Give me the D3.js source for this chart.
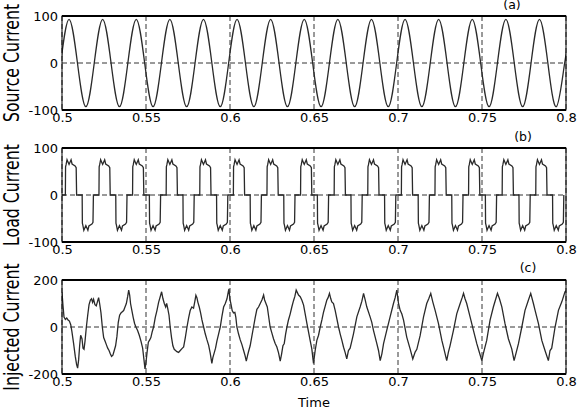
<!DOCTYPE html>
<html lang="en">
<head>
<meta charset="UTF-8">
<script src="https://d3js.org/d3.v7.min.js"></script>
<title>Source, load and injected current</title>
<style>
    body { margin: 0; background: #fff; }
    svg text { font-family: "DejaVu Sans", sans-serif; fill: #000; }
</style>
</head>
<body>
<svg width="579" height="416"></svg>
<script>
    // tick values
    const timeTicks = [0.5, 0.55, 0.6, 0.65, 0.7, 0.75, 0.8];
    const ampTicks = [-100, 0, 100];
    const injTicks = [-200, 0, 200];

    // (a) source current: zero crossings and peaks
    const sourceT = [0.4992,0.5042,0.5092,0.5142,0.5192,0.5242,0.5292,0.5342,0.5392,0.5442,
        0.5492,0.5542,0.5592,0.5642,0.5692,0.5742,0.5792,0.5842,0.5892,0.5942,
        0.5992,0.6042,0.6092,0.6142,0.6192,0.6242,0.6292,0.6342,0.6392,0.6442,
        0.6492,0.6542,0.6592,0.6642,0.6692,0.6742,0.6792,0.6842,0.6892,0.6942,
        0.6992,0.7042,0.7092,0.7142,0.7192,0.7242,0.7292,0.7342,0.7392,0.7442,
        0.7492,0.7542,0.7592,0.7642,0.7692,0.7742,0.7792,0.7842,0.7892,0.7942,
        0.7992,0.8042];
    const sourceI = [0,93,0,-93,0,93,0,-93,0,93,
        0,-93,0,93,0,-93,0,93,0,-93,
        0,93,0,-93,0,93,0,-93,0,93,
        0,-93,0,93,0,-93,0,93,0,-93,
        0,93,0,-93,0,93,0,-93,0,93,
        0,-93,0,93,0,-93,0,93,0,-93,
        0,93];

    const loadPeriod = 0.02;
    const loadStart = [0.482,0.502,0.522,0.542,0.562,0.582,0.602,0.622,
        0.642,0.662,0.682,0.702,0.722,0.742,0.762,0.782];
    const loadPhase = [0,0.006,0.02,0.05,0.11,0.17,0.2,0.29,0.322,0.335,
        0.5,0.506,0.52,0.55,0.61,0.67,0.7,0.79,0.822,0.835];
    const loadShape = [0,60,64,75,65,75,66,62,58,0,
        0,-60,-64,-75,-65,-75,-66,-62,-58,0];

    // (c) injected current
    const injT = [
        0.5000,0.5006,0.5012,0.5020,0.5028,0.5036,0.5044,0.5052,0.5059,0.5069,0.5079,0.5087,0.5093,0.5099,0.5105,0.5111,0.5119,0.5125,0.5131,0.5137,
        0.5145,0.5153,0.5161,0.5169,0.5176,0.5182,0.5188,0.5196,0.5204,0.5212,0.5218,0.5224,0.5232,0.5240,0.5248,0.5256,0.5264,0.5272,0.5280,0.5288,
        0.5295,0.5303,0.5311,0.5319,0.5327,0.5335,0.5343,0.5351,0.5359,0.5367,0.5375,0.5383,0.5391,0.5397,
        0.5403,0.5408,0.5416,0.5424,0.5432,0.5440,0.5450,0.5460,0.5470,0.5480,0.5488,0.5494,0.5500,0.5506,0.5514,0.5522,0.5529,0.5537,0.5545,0.5555,
        0.5565,0.5575,0.5585,0.5593,0.5601,0.5609,0.5617,0.5623,0.5629,0.5637,0.5644,0.5652,0.5660,0.5668,0.5676,0.5684,0.5694,0.5704,0.5714,0.5724,
        0.5734,0.5744,0.5754,0.5763,0.5773,0.5783,0.5791,0.5797,
        0.5803,0.5809,0.5817,0.5825,0.5833,0.5843,0.5853,0.5863,0.5873,0.5882,0.5892,0.5898,0.5906,0.5914,0.5922,0.5932,0.5942,0.5952,0.5962,0.5972,
        0.5982,0.5990,0.5994,0.5999,0.6005,0.6013,0.6021,0.6029,0.6035,0.6041,0.6051,0.6061,0.6071,0.6081,0.6089,0.6097,0.6105,0.6112,0.6120,0.6130,
        0.6140,0.6150,0.6160,0.6170,0.6180,0.6190,0.6200,
        0.6206,0.6214,0.6222,0.6229,0.6239,0.6249,0.6259,0.6269,0.6279,0.6289,0.6299,0.6307,0.6315,0.6323,0.6331,0.6339,0.6348,0.6358,0.6368,0.6378,
        0.6386,0.6394,
        0.6408,0.6418,0.6428,0.6438,0.6458,0.6477,0.6487,0.6497,0.6507,0.6517,0.6527,0.6537,0.6547,0.6557,0.6567,0.6576,0.6584,0.6592,
        0.6600,0.6606,0.6616,0.6626,0.6646,0.6656,0.6666,0.6676,0.6686,0.6695,0.6705,0.6715,0.6725,0.6735,0.6755,0.6775,0.6785,0.6795,
        0.6805,0.6814,0.6834,0.6844,0.6854,0.6874,0.6884,0.6894,0.6904,0.6914,0.6933,0.6953,0.6973,0.6983,0.6993,
        0.7003,0.7013,0.7023,0.7033,0.7052,0.7072,0.7088,0.7102,0.7112,0.7132,0.7152,0.7171,0.7183,0.7195,
        0.7207,0.7221,0.7241,0.7261,0.7271,0.7290,0.7300,0.7310,0.7330,0.7350,0.7370,0.7382,0.7390,
        0.7399,0.7409,0.7429,0.7449,0.7469,0.7481,0.7499,0.7509,0.7528,0.7548,0.7568,0.7580,0.7592,
        0.7604,0.7618,0.7637,0.7657,0.7677,0.7691,0.7703,0.7717,0.7737,0.7756,0.7776,0.7790,
        0.7806,0.7816,0.7836,0.7856,0.7875,0.7895,0.7905,0.7915,0.7935,0.7955,0.7975,0.7994,0.8000];
    const injI = [
        148,90,42,32,38,30,25,10,-20,-70,-125,-160,-175,-140,-80,-35,-50,-90,-95,-60,
        0,50,95,115,120,105,118,95,90,110,125,100,60,0,-45,-60,-75,-90,-100,-115,
        -125,-120,-100,-80,-40,20,50,60,65,70,85,100,130,157,
        135,100,70,40,15,0,-15,-35,-60,-90,-140,-178,-150,-110,-65,-55,-45,-20,0,40,
        70,105,130,150,120,100,85,100,80,50,0,-45,-80,-95,-100,-105,-108,-100,-92,-85,
        -45,0,40,70,85,80,110,135,
        125,105,85,60,30,0,-30,-55,-78,-110,-155,-130,-110,-90,-60,-30,0,45,85,100,
        120,150,162,120,100,70,60,62,40,0,-30,-55,-75,-100,-120,-145,-120,-100,-80,-40,
        0,40,75,85,100,115,136,
        115,100,85,50,0,-25,-50,-70,-85,-110,-145,-115,-80,-70,-30,0,30,55,85,112,
        130,157,
        136,129,114,93,14,-57,-93,-155,-100,-57,-35,0,30,64,90,114,125,143,
        120,107,100,71,0,-30,-57,-86,-110,-136,-100,-90,-60,-29,43,86,110,143,
        114,86,43,20,-14,-71,-100,-143,-114,-71,-14,43,100,125,157,
        100,71,55,29,-43,-93,-136,-107,-95,-36,43,100,120,143,
        107,71,14,-57,-86,-143,-107,-79,-14,57,100,125,143,
        120,100,43,-14,-71,-100,-143,-110,-57,29,86,115,143,
        120,86,14,-50,-93,-143,-110,-71,0,71,114,143,
        100,71,14,-57,-100,-143,-100,-90,0,71,107,150,155];

    const sourcePts = sourceT.map((t, i) => [t, sourceI[i]]);
    const loadPts = [];
    loadStart.forEach(s => loadPhase.forEach((p, i) => loadPts.push([s + p * loadPeriod, loadShape[i]])));
    const injPts = injT.map((t, i) => [t, injI[i]]);

    const svg = d3.select("svg");
    const left = 62, right = 566;
    const x = d3.scaleLinear().domain([0.5, 0.8]).range([left, right]);

    const panels = [
        {top: 16, bottom: 110, ticks: ampTicks, title: "Source Current", tag: "(a)", tagX: 512, tagY: 9,
            pts: sourcePts, curve: d3.curveNatural},
        {top: 148, bottom: 242, ticks: ampTicks, title: "Load Current", tag: "(b)", tagX: 523, tagY: 141,
            pts: loadPts, curve: d3.curveLinear},
        {top: 280, bottom: 374, ticks: injTicks, title: "Injected Current", tag: "(c)", tagX: 528, tagY: 272,
            pts: injPts, curve: d3.curveLinear}
    ];

    panels.forEach((p, k) => {
        const y = d3.scaleLinear().domain([p.ticks[0], p.ticks[2]]).range([p.bottom, p.top]);
        const g = svg.append("g");

        g.append("clipPath").attr("id", "clip" + k)
            .append("rect")
            .attr("x", left).attr("y", p.top)
            .attr("width", right - left).attr("height", p.bottom - p.top);

        // dashed grid
        g.selectAll(".vgrid").data(timeTicks).enter().append("line")
            .attr("x1", d => x(d)).attr("x2", d => x(d))
            .attr("y1", p.top).attr("y2", p.bottom)
            .attr("stroke", "#000").attr("stroke-width", 0.8)
            .attr("stroke-dasharray", "5,3");
        g.selectAll(".hgrid").data(p.ticks).enter().append("line")
            .attr("x1", left).attr("x2", right)
            .attr("y1", d => y(d)).attr("y2", d => y(d))
            .attr("stroke", "#000").attr("stroke-width", 0.8)
            .attr("stroke-dasharray", "5,3");

        const line = d3.line().x(d => x(d[0])).y(d => y(d[1])).curve(p.curve);
        g.append("path")
            .datum(p.pts)
            .attr("clip-path", "url(#clip" + k + ")")
            .attr("fill", "none")
            .attr("stroke", "#2a2a2a")
            .attr("stroke-width", 1.3)
            .attr("d", line);

        // frame
        g.append("rect")
            .attr("x", left).attr("y", p.top)
            .attr("width", right - left).attr("height", p.bottom - p.top)
            .attr("fill", "none").attr("stroke", "#000").attr("stroke-width", 1);
        g.selectAll(".edge").data([p.top, p.bottom]).enter().append("line")
            .attr("x1", left).attr("x2", right)
            .attr("y1", d => d).attr("y2", d => d)
            .attr("stroke", "#000").attr("stroke-width", 1.8);

        // axes
        const ya = g.append("g")
            .attr("transform", "translate(" + left + ",0)")
            .call(d3.axisLeft(y).tickValues(p.ticks).tickSize(0).tickPadding(4).tickFormat(d => String(d)));
        const xa = g.append("g")
            .attr("transform", "translate(0," + p.bottom + ")")
            .call(d3.axisBottom(x).tickValues(timeTicks).tickSize(0).tickPadding(3).tickFormat(d => String(d)));
        [ya, xa].forEach(a => {
            a.select(".domain").remove();
            a.selectAll("text").attr("font-size", 13).attr("font-family", "DejaVu Sans");
        });

        g.append("text")
            .attr("transform", "translate(19," + ((p.top + p.bottom) / 2) + ") rotate(-90) scale(0.75,1)")
            .attr("text-anchor", "middle")
            .attr("font-size", 21)
            .text(p.title);

        g.append("text")
            .attr("x", p.tagX).attr("y", p.tagY)
            .attr("text-anchor", "middle")
            .attr("font-size", 12.5)
            .text(p.tag);
    });

    svg.append("text")
        .attr("x", (left + right) / 2).attr("y", 407)
        .attr("text-anchor", "middle")
        .attr("font-size", 13)
        .text("Time");
</script>
</body>
</html>
